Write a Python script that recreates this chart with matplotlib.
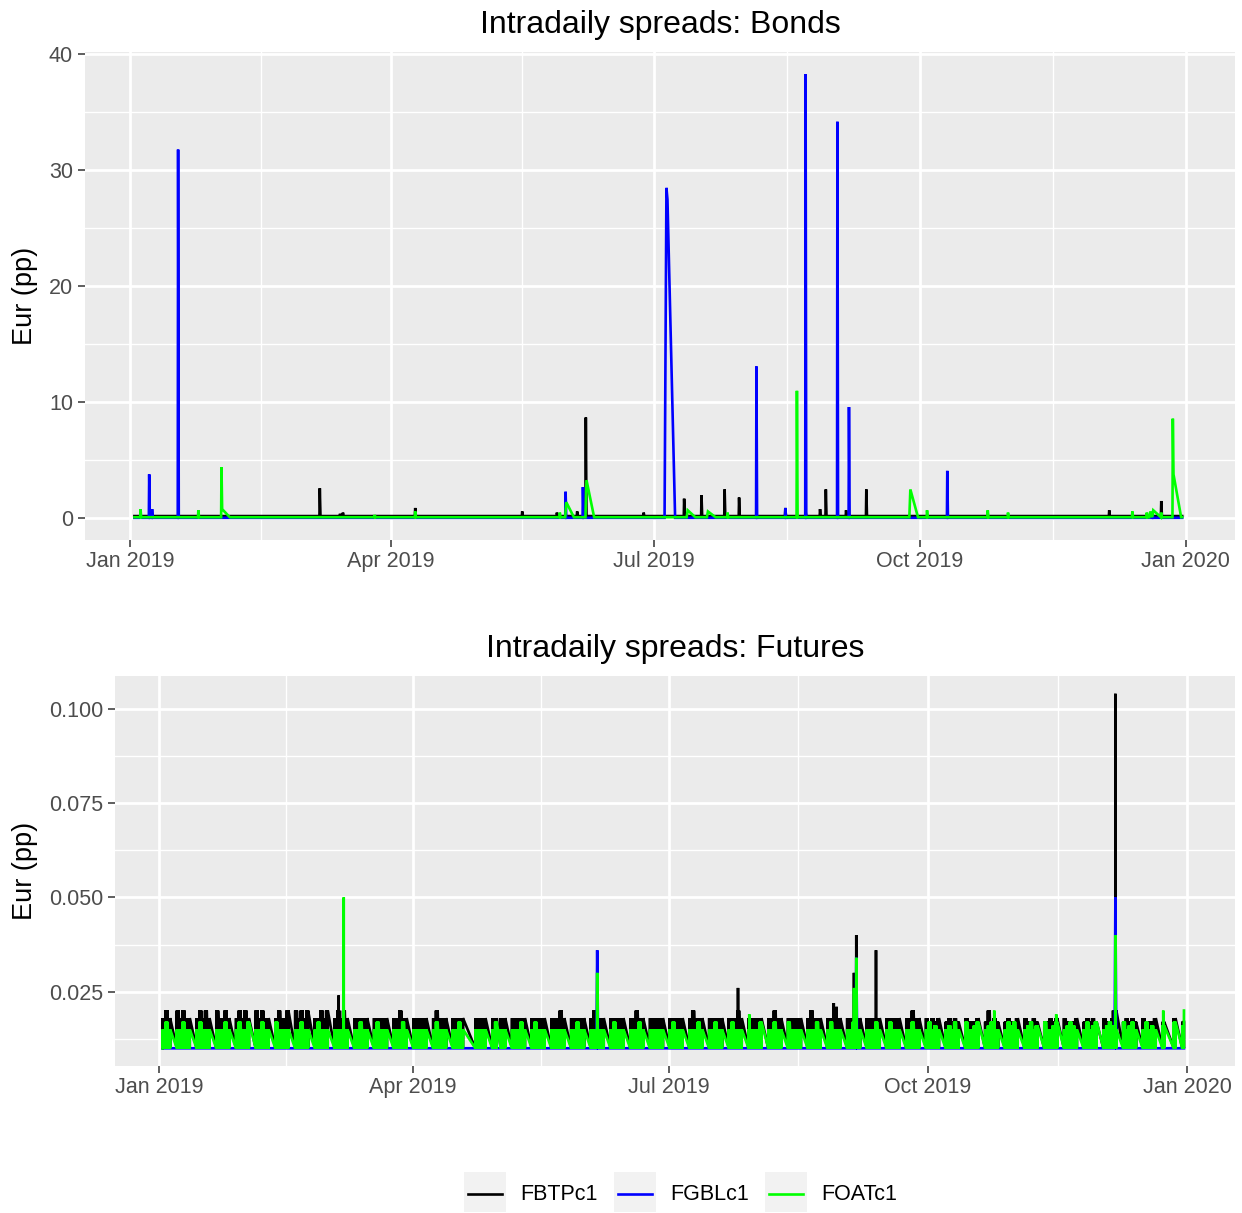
import numpy as np
import pandas as pd
import matplotlib

matplotlib.use("Agg")
import matplotlib.pyplot as plt
import matplotlib.dates as mdates
from matplotlib.lines import Line2D
from matplotlib.patches import Rectangle
from matplotlib.ticker import MultipleLocator, FixedLocator, FormatStrFormatter

plt.rcParams["font.family"] = ["Liberation Sans", "DejaVu Sans"]

W, H = 1242, 1213

SERIES = ["FBTPc1", "FGBLc1", "FOATc1"]
COLORS = {"FBTPc1": "#000000", "FGBLc1": "#0000FF", "FOATc1": "#00FF00"}

# Eurex closed days (no observations)
HOLIDAYS = ["2019-04-19", "2019-04-22", "2019-05-01", "2019-12-24", "2019-12-25", "2019-12-26"]
days = pd.bdate_range("2019-01-02", "2019-12-30").difference(pd.DatetimeIndex(HOLIDAYS))

# ---------------------------------------------------------------- bonds
bond_base = {"FBTPc1": 0.2, "FGBLc1": 0.05, "FOATc1": 0.1}

bond_spikes = {
    "FBTPc1": [
        ("2019-03-07 12:00", 2.6), ("2019-03-14 12:00", 0.4), ("2019-03-15 12:00", 0.5),
        ("2019-04-09 12:00", 0.9), ("2019-05-16 12:00", 0.6), ("2019-05-28 12:00", 0.5),
        ("2019-06-04 12:00", 0.6), ("2019-06-07 12:00", 8.7), ("2019-06-27 12:00", 0.5),
        ("2019-07-11 12:00", 1.7), ("2019-07-17 12:00", 2.0), ("2019-07-25 12:00", 2.5),
        ("2019-07-30 12:00", 1.8), ("2019-08-15 12:00", 0.9), ("2019-08-22 12:00", 0.6),
        ("2019-08-27 12:00", 0.8), ("2019-08-29 12:00", 2.5), ("2019-09-05 12:00", 0.7),
        ("2019-09-12 12:00", 2.5), ("2019-12-05 12:00", 0.7), ("2019-12-23 12:00", 1.5),
    ],
    "FGBLc1": [
        ("2019-01-07 12:00", 3.8), ("2019-01-08 12:00", 0.8), ("2019-01-17 12:00", 31.8),
        ("2019-05-31 12:00", 2.3), ("2019-06-06 12:00", 2.7), ("2019-07-05 09:00", 28.5),
        ("2019-07-05 17:30", 27.5), ("2019-08-05 12:00", 13.1), ("2019-08-15 12:00", 0.9),
        ("2019-08-22 12:00", 38.3), ("2019-09-02 12:00", 34.2), ("2019-09-06 12:00", 9.6),
        ("2019-10-10 12:00", 4.1), ("2019-12-20 12:00", 0.4),
    ],
    "FOATc1": [
        ("2019-01-04 12:00", 0.8), ("2019-01-24 12:00", 0.7), ("2019-02-01 12:00", 4.4),
        ("2019-02-01 17:30", 0.8), ("2019-03-26 12:00", 0.3), ("2019-04-09 12:00", 0.6),
        ("2019-05-29 12:00", 0.5), ("2019-05-31 17:30", 1.4), ("2019-06-07 17:30", 3.3),
        ("2019-07-12 17:30", 0.7), ("2019-07-19 17:30", 0.6), ("2019-07-26 12:00", 0.5),
        ("2019-08-19 12:00", 11.0), ("2019-09-27 17:30", 2.5), ("2019-10-03 12:00", 0.7),
        ("2019-10-24 12:00", 0.7), ("2019-10-31 12:00", 0.5), ("2019-12-13 12:00", 0.6),
        ("2019-12-18 12:00", 0.5), ("2019-12-19 17:30", 0.6), ("2019-12-20 17:30", 0.7),
        ("2019-12-23 12:00", 0.5), ("2019-12-27 12:00", 8.6), ("2019-12-27 17:30", 3.8),
    ],
}

# ---------------------------------------------------------------- futures
fut_low = 0.010
# daily high of the intraday spread, one hex digit per trading day,
# value = 0.010 + digit * 0.001 ; one string per week
fut_codes = {
    "FBTPc1": [
        "8a8", "a8a88", "8a8a8", "a88a8", "8a8a8", "a8a88", "8a88a", "a8a8a", "88a8a",
        "8a8a8", "88888", "88888", "88a88",
        "88888", "8a888", "8888", "8888", "8888", "88888", "88888", "888a8", "88888",
        "8a888", "88888", "88a88", "88888",
        "88888", "8a888", "88888", "888a8", "88888", "88a88", "88888", "8a888", "88888",
        "88888", "88888", "88888", "88a88",
        "87878", "78787", "87778", "7a787", "78778", "87787", "77878", "87778", "78787",
        "8778a", "78787", "87778", "78", "7",
    ],
    "FOATc1": [
        "575", "55755", "57555", "55575", "57557", "55755", "75555", "55755", "57555",
        "55555", "55755", "57555", "55575",
        "55555", "57555", "5575", "5555", "5755", "55575", "57555", "55555", "55755",
        "55555", "57555", "55575", "55555",
        "57555", "55575", "55755", "57555", "55557", "55755", "75555", "55575", "57555",
        "55755", "55575", "57555", "55755",
        "57565", "56575", "75567", "56755", "57675", "56756", "75567", "56765", "57567",
        "56765", "75675", "57565", "67", "6",
    ],
}

fut_spikes = {
    "FBTPc1": [
        ("2019-03-05 16:30", 0.024), ("2019-06-05 12:30", 0.020), ("2019-07-25 12:30", 0.026),
        ("2019-08-28 12:30", 0.022), ("2019-08-29 12:30", 0.021), ("2019-09-04 17:00", 0.030),
        ("2019-09-05 12:30", 0.040), ("2019-09-12 12:30", 0.036), ("2019-12-05 16:30", 0.020),
        ("2019-12-06 12:30", 0.104),
    ],
    "FGBLc1": [
        ("2019-06-05 12:30", 0.036), ("2019-09-05 12:30", 0.034), ("2019-12-06 12:30", 0.050),
    ],
    "FOATc1": [
        ("2019-03-07 12:30", 0.050), ("2019-06-05 12:30", 0.030), ("2019-07-29 12:30", 0.019),
        ("2019-09-04 17:00", 0.026), ("2019-09-05 12:30", 0.034), ("2019-10-24 12:30", 0.020),
        ("2019-11-15 12:30", 0.019), ("2019-12-06 12:30", 0.040), ("2019-12-23 12:30", 0.020),
        ("2019-12-30 21:00", 0.020),
    ],
}


def bond_series(name):
    pts = {}
    for d in days:
        pts[d + pd.Timedelta(hours=9)] = bond_base[name]
        pts[d + pd.Timedelta(hours=17, minutes=30)] = bond_base[name]
    for t, v in bond_spikes[name]:
        pts[pd.Timestamp(t)] = v
    return pd.Series(pts).sort_index()


def fut_series(name):
    pts = {}
    codes = "".join(fut_codes.get(name, []))
    if codes:
        assert len(codes) == len(days), (name, len(codes), len(days))
        for d, c in zip(days, codes):
            hi = fut_low + int(c, 16) * 0.001
            for k, h in enumerate(range(6, 22)):
                pts[d + pd.Timedelta(hours=h)] = hi if k % 2 else fut_low
    else:
        for d in days:
            pts[d + pd.Timedelta(hours=6)] = fut_low
            pts[d + pd.Timedelta(hours=21)] = fut_low
    for t, v in fut_spikes[name]:
        pts[pd.Timestamp(t)] = v
    return pd.Series(pts).sort_index()


def style(ax):
    ax.set_facecolor("#EBEBEB")
    for sp in ax.spines.values():
        sp.set_visible(False)
    ax.set_axisbelow(True)
    ax.grid(which="major", color="white", lw=2.0)
    ax.grid(which="minor", color="white", lw=1.0)
    ax.tick_params(which="major", length=4.7, width=1.1, color="#333333",
                   labelsize=15.5, labelcolor="#4D4D4D")
    ax.tick_params(axis="x", pad=2.9)
    ax.tick_params(axis="y", pad=4.0)
    ax.tick_params(which="minor", length=0)
    major = pd.to_datetime(["2018-10-01", "2019-01-01", "2019-04-01", "2019-07-01",
                            "2019-10-01", "2020-01-01", "2020-04-01"])
    mnum = mdates.date2num(major)
    ax.xaxis.set_major_locator(mdates.MonthLocator(bymonth=[1, 4, 7, 10]))
    ax.xaxis.set_major_formatter(mdates.DateFormatter("%b %Y"))
    ax.xaxis.set_minor_locator(FixedLocator((mnum[:-1] + mnum[1:]) / 2))
    jan1 = pd.Timestamp("2019-01-01")
    ax.set_xlim(jan1 - pd.Timedelta(days=15.7), jan1 + pd.Timedelta(days=382.0))


fig = plt.figure(figsize=(W / 100, H / 100), dpi=100)
ax1 = fig.add_axes([85 / W, 1 - 540 / H, 1150 / W, 488 / H])
ax2 = fig.add_axes([115 / W, 1 - 1066 / H, 1120 / W, 390 / H])

for name in SERIES:
    s = bond_series(name)
    ax1.plot(s.index, s.values, color=COLORS[name], lw=1.9, solid_joinstyle="miter")
    f = fut_series(name)
    ax2.plot(f.index, f.values, color=COLORS[name], lw=1.9, solid_joinstyle="miter")

for ax in (ax1, ax2):
    ax.margins(y=0.05)
    style(ax)

ax1.yaxis.set_major_locator(MultipleLocator(10))
ax1.yaxis.set_minor_locator(MultipleLocator(5))
ax2.yaxis.set_major_locator(MultipleLocator(0.025))
ax2.yaxis.set_minor_locator(MultipleLocator(0.0125))
ax2.yaxis.set_major_formatter(FormatStrFormatter("%.3f"))

ax1.set_title("Intradaily spreads: Bonds", fontsize=23, pad=13.5)
ax2.set_title("Intradaily spreads: Futures", fontsize=23, pad=14)
for ax, left, width in ((ax1, 85, 1150), (ax2, 115, 1120)):
    ax.set_ylabel("Eur (pp)", fontsize=19.5)
    ax.yaxis.set_label_coords((38 - left) / width, 0.5)

# legend, drawn as ggplot-style keys below the panels
key_x = [464, 614, 765]
for name, x0 in zip(SERIES, key_x):
    fig.patches.append(Rectangle((x0 / W, 1 - 1212 / H), 42 / W, 40 / H,
                                 transform=fig.transFigure, facecolor="#F2F2F2",
                                 edgecolor="none"))
    fig.lines.append(Line2D([(x0 + 4) / W, (x0 + 38) / W], [1 - 1194 / H] * 2,
                            transform=fig.transFigure, color=COLORS[name], lw=1.9))
    fig.text((x0 + 56) / W, 1 - 1194 / H, name, fontsize=15.5, ha="left", va="center")

fig.savefig("out.png", dpi=100)
